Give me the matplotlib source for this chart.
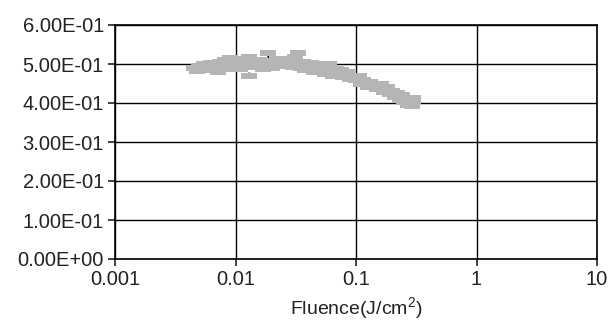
import matplotlib
matplotlib.use("Agg")
import matplotlib.pyplot as plt

plt.rcParams["font.family"] = ["Liberation Sans", "DejaVu Sans"]
plt.rcParams["mathtext.fontset"] = "custom"
plt.rcParams["mathtext.rm"] = "Liberation Sans"
plt.rcParams["mathtext.it"] = "Liberation Sans"

fluence = [0.0045, 0.0048, 0.005, 0.0052, 0.0055, 0.0058, 0.006, 0.0063, 0.0065, 0.007,
           0.0072, 0.0075, 0.008, 0.0082, 0.0085, 0.009, 0.0093, 0.0095, 0.010, 0.0105,
           0.011, 0.0115, 0.012, 0.0125, 0.013, 0.013, 0.014, 0.0145, 0.015, 0.016,
           0.0165, 0.017, 0.018, 0.0185, 0.019, 0.02, 0.021, 0.022, 0.023, 0.024,
           0.026, 0.027, 0.028, 0.03, 0.031, 0.032, 0.033, 0.035, 0.036, 0.038,
           0.04, 0.042, 0.045, 0.048, 0.05, 0.053, 0.055, 0.058, 0.06, 0.063,
           0.065, 0.068, 0.07, 0.075, 0.078, 0.08, 0.085, 0.09, 0.095, 0.1,
           0.105, 0.11, 0.115, 0.12, 0.125, 0.13, 0.14, 0.15, 0.16, 0.17,
           0.18, 0.19, 0.2, 0.21, 0.22, 0.23, 0.24, 0.25, 0.26, 0.27,
           0.28, 0.29, 0.3, 0.3]
value = [0.490, 0.482, 0.495, 0.488, 0.500, 0.484, 0.493, 0.502, 0.486, 0.497,
         0.480, 0.505, 0.492, 0.510, 0.498, 0.515, 0.488, 0.503, 0.508, 0.494,
         0.486, 0.500, 0.512, 0.497, 0.518, 0.468, 0.492, 0.505, 0.500, 0.510,
         0.495, 0.486, 0.502, 0.527, 0.498, 0.490, 0.507, 0.512, 0.496, 0.503,
         0.514, 0.497, 0.508, 0.492, 0.517, 0.502, 0.527, 0.490, 0.506, 0.485,
         0.496, 0.503, 0.480, 0.494, 0.488, 0.499, 0.475, 0.492, 0.500, 0.482,
         0.470, 0.488, 0.478, 0.484, 0.466, 0.473, 0.480, 0.462, 0.470, 0.458,
         0.468, 0.448, 0.460, 0.452, 0.440, 0.455, 0.443, 0.436, 0.448, 0.428,
         0.440, 0.422, 0.432, 0.415, 0.426, 0.408, 0.420, 0.402, 0.414, 0.396,
         0.408, 0.392, 0.404, 0.412]

yticks = [0.0, 0.1, 0.2, 0.3, 0.4, 0.5, 0.6]
xticks = [0.001, 0.01, 0.1, 1, 10]
xticklabels = ["0.001", "0.01", "0.1", "1", "10"]

fig = plt.figure(figsize=(6.16, 3.22), dpi=100)
ax = fig.add_axes([115 / 616, 63 / 322, 482 / 616, 234 / 322])

# black trend line underneath the gray dash markers
ax.plot(fluence, value, color="black", lw=1.2, ls=(0, (4, 4)), zorder=2)
rect = [(-2.4, -1), (2.4, -1), (2.4, 1), (-2.4, 1)]
ax.plot(fluence, value, ls="none", marker=rect, markersize=12,
        color="#b5b5b5", markeredgewidth=0, zorder=3)

ax.set_xscale("log")
ax.set_xlim(0.001, 10)
ax.set_ylim(0, 0.6)
ax.set_xticks(xticks)
ax.set_xticklabels(xticklabels)
ax.xaxis.set_minor_locator(matplotlib.ticker.NullLocator())
ax.set_yticks(yticks)
ax.set_yticklabels([f"{v:.2E}" for v in yticks])
ax.grid(True, color="black", lw=1.0)
for s in ax.spines.values():
    s.set_color("black")
    s.set_linewidth(1.2)
ax.tick_params(direction="out", length=5, width=1.2, labelsize=14.5, colors="#222222", pad=3)
ax.set_xlabel("Fluence(J/cm$^2$)", fontsize=14, labelpad=4, color="#222222")

fig.savefig("out.png", dpi=100)
